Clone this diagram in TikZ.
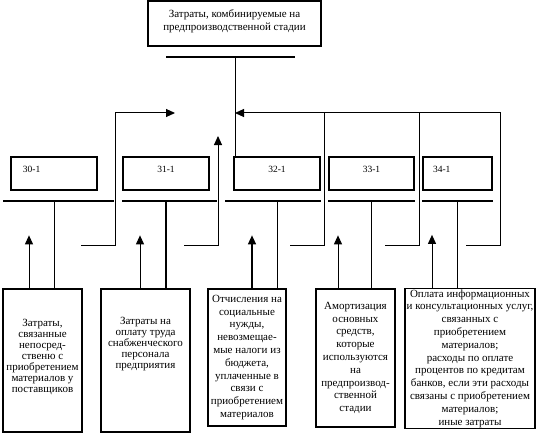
\documentclass[tikz,border=0pt]{standalone}
\usepackage{fontspec}
\setmainfont{Liberation Serif}
\usetikzlibrary{arrows.meta}

\tikzset{
    codebox/.style={draw, line width=1.6pt, minimum height=33pt, inner ysep=0pt, text height=10pt, text depth=13pt, font=\fontsize{9.5}{11}\selectfont},
    notebox/.style={draw, line width=1.3pt, align=center, inner sep=1pt, font=\fontsize{11}{12.8}\selectfont},
    wire/.style={line width=1pt},
    bus/.style={line width=1.5pt},
    feed/.style={line width=1pt, -{Triangle[length=9pt, width=8pt]}},
}

\begin{document}
\begin{tikzpicture}[x=1pt, y=-1pt]
    \useasboundingbox (0, 0) rectangle (544, 444);

    \node[draw, line width=1.6pt, minimum width=173pt, minimum height=45pt, align=center, text depth=7pt, font=\fontsize{11}{13}\selectfont] (stage) at (234.5, 23.5) {Затраты, комбинируемые на\\предпроизводственной стадии};

    \node[codebox, minimum width=86pt, text width=62pt, inner xsep=12pt, align=left] (c30) at (54, 173.5) {30-1};
    \node[codebox, minimum width=86pt] (c31) at (166, 173.5) {31-1};
    \node[codebox, minimum width=86pt] (c32) at (277, 173.5) {32-1};
    \node[codebox, minimum width=85pt] (c33) at (371.5, 173.5) {33-1};
    \node[codebox, minimum width=69pt, text width=49pt, inner xsep=10pt, align=left] (c34) at (457.5, 173.5) {34-1};

    \node[notebox, minimum width=79pt, minimum height=143pt, text depth=9pt, font=\fontsize{11}{11}\selectfont] (n30) at (42.5, 360.5) {Затраты,\\связанные\\непосред-\\ственю с\\приобретением\\материалов у\\поставщиков};
    \node[notebox, minimum width=89pt, minimum height=143pt, text depth=36pt, font=\fontsize{11}{11}\selectfont] (n31) at (145.5, 360.5) {Затраты на\\оплату труда\\снабженческого\\персонала\\предприятия};
    \node[notebox, minimum width=78pt, minimum height=137pt] (n32) at (247, 357.5) {Отчисления на\\социальные\\нужды,\\невозмещае-\\мые налоги из\\бюджета,\\уплаченные в\\связи с\\приобретением\\материалов};
    \node[notebox, minimum width=79pt, minimum height=138pt] (n33) at (355.5, 358) {Амортизация\\основных\\средств,\\которые\\используются\\на\\предпроизвод-\\ственной\\стадии};
    \node[notebox, minimum width=130pt, minimum height=139pt] (n34) at (470, 358.5) {Оплата информационных\\и консультационных услуг,\\связанных с\\приобретением\\материалов;\\расходы по оплате\\процентов по кредитам\\банков, если эти расходы\\связаны с приобретением\\материалов;\\иные затраты};

    \coordinate (hub) at (235, 57);
    \coordinate (mid) at (235, 113);
    \coordinate (row) at (0, 201);
    \coordinate (r30) at (81, 245);
    \coordinate (r31) at (184, 245);
    \coordinate (r32) at (290, 245);
    \coordinate (r33) at (385, 245);
    \coordinate (r34) at (466, 245);

    % common line and the collecting returns
    \draw[bus] ([xshift=-69pt]hub) -- ([xshift=60pt]hub);
    \draw[wire] (hub) -- (hub |- c32.north);
    \draw[feed] (r34) -- ++(34, 0) |- (mid);
    \draw[wire] (r33) -- ++(34, 0) -- ++(0, -132);
    \draw[wire] (r32) -- ++(34, 0) -- ++(0, -132);
    \draw[feed] (r30) -- ++(34, 0) |- ([xshift=-60pt]mid);
    \draw[feed] (r31) -- ++(34, 0) -- ++(0, -109);

    % accounts
    \draw[bus] ([xshift=-7pt]c30.west |- row) -- ++(111, 0);
    \draw[bus] (c31.west |- row) -- ++(95, 0);
    \draw[bus] ([xshift=-8pt]c32.west |- row) -- (c32.east |- row);
    \draw[bus] (c33.west |- row) -- (c33.east |- row);
    \draw[bus] (c34.west |- row) -- (c34.east |- row);

    \draw[wire] (c30 |- row) -- (c30 |- n30.north);
    \draw[bus] (c31 |- row) -- (c31 |- n31.north);
    \draw[wire] (c32 |- row) -- (c32 |- n32.north);
    \draw[bus] (c33 |- row) -- (c33 |- n33.north);
    \draw[bus] (c34 |- row) -- (c34 |- n34.north);

    \draw[feed] ([xshift=-13.5pt]n30.north) -- ++(0, -53);
    \draw[feed] ([xshift=-5.5pt]n31.north) -- ++(0, -53);
    \draw[feed, line width=1.4pt] ([xshift=5pt]n32.north) -- ++(0, -53);
    \draw[feed] ([xshift=-17.5pt]n33.north) -- ++(0, -53);
    \draw[feed] ([xshift=-38pt]n34.north) -- ++(0, -53);
\end{tikzpicture}
\end{document}
